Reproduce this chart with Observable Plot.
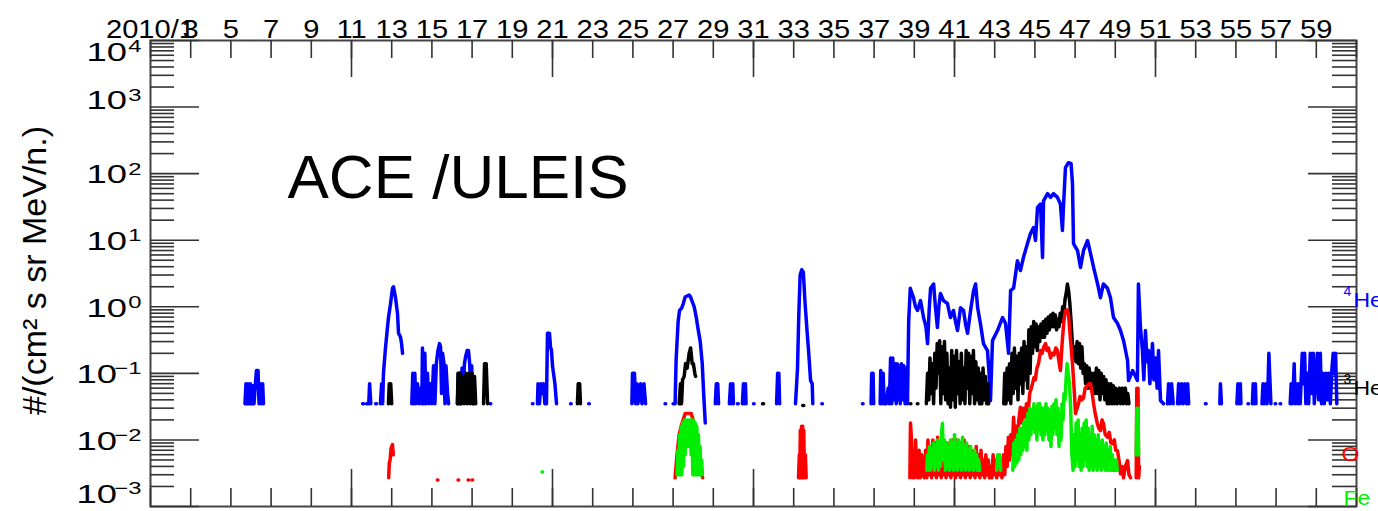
<!DOCTYPE html>
<html><head><meta charset="utf-8">
<script src="https://cdn.jsdelivr.net/npm/d3@7"></script>
<script src="https://cdn.jsdelivr.net/npm/@observablehq/plot@0.6"></script>
<style>html,body{margin:0;padding:0;background:#fff;} svg{display:block;}</style>
</head><body><div id="chart"></div>
<script>
// ---------- axis values ----------
const xTickDays = d3.range(1, 62, 2);
const xLongTickDays = [11, 21, 31, 41, 51];
const xLabelDays = d3.range(1, 60, 2);
const xLabels = xLabelDays.map(d => d === 1 ? "2010/1" : String(d));
const yExponents = [-3, -2, -1, 0, 1, 2, 3, 4];
const yTitle = "#/(cm² s sr MeV/n.)";
const annotation = "ACE /ULEIS";

// ---------- series labels ----------
const seriesNames = ["He", "He", "O", "Fe"];
const seriesSup = ["4", "3", "", ""];
const seriesLabelValue = [1.24, 0.059, 0.006, 0.0013];
const seriesColor = ["#0000ff", "#000000", "#ff0000", "#00ee00"];

// ---------- data: [day of 2010, flux]; null = data gap ----------
const he4 = [
 [5.70,0.035],[5.75,0.07],[5.80,0.035],[5.85,0.07],[5.92,0.035],[5.97,0.07],[6.03,0.035],[6.10,0.065],[6.15,0.035],[6.22,0.07],[6.27,0.11],[6.35,0.11],[6.40,0.035],[6.45,0.07],[6.52,0.035],[6.58,0.07],[6.62,0.035], null,
 [11.55,0.035],[11.6,0.035], null,
 [11.75,0.035],[11.8,0.035], null,
 [11.86,0.035],[11.9,0.07],[11.96,0.035], null,
 [12.2,0.035],[12.25,0.035], null,
 [12.44,0.035],[12.5,0.07],[12.55,0.035],[12.59,0.1],[12.69,0.24],[12.79,0.49],[12.84,0.69],[12.94,1.1],[13.04,1.9],[13.09,2.0],[13.19,1.37],[13.29,0.79],[13.34,0.4],[13.44,0.35],[13.49,0.28],[13.54,0.2], null,
 [14.0,0.035],[14.05,0.1],[14.1,0.035],[14.15,0.1],[14.2,0.035],[14.28,0.07],[14.35,0.035],[14.43,0.06],[14.5,0.035],[14.53,0.24],[14.6,0.035],[14.65,0.2],[14.7,0.035],[14.78,0.1],[14.85,0.035],[14.93,0.07],[15.0,0.035],[15.08,0.13],[15.15,0.035],[15.22,0.14],[15.3,0.22],[15.38,0.28],[15.43,0.25],[15.48,0.05],[15.53,0.2],[15.6,0.14],[15.65,0.035],[15.7,0.13],[15.78,0.05],[15.83,0.035], null,
 [16.27,0.035],[16.32,0.1],[16.4,0.1],[16.45,0.035],[16.5,0.12],[16.55,0.05],[16.62,0.14],[16.68,0.18],[16.75,0.22],[16.82,0.22],[16.88,0.14],[16.93,0.05],[16.98,0.13],[17.02,0.035],[17.07,0.09],[17.1,0.035], null,
 [17.9,0.035],[17.93,0.035], null,
 [20.0,0.035],[20.03,0.035], null,
 [20.25,0.035],[20.28,0.07],[20.35,0.035],[20.42,0.07],[20.5,0.05],[20.55,0.07],[20.62,0.035],[20.7,0.035],[20.75,0.4],[20.85,0.4],[20.9,0.25],[20.95,0.22],[21.0,0.13],[21.05,0.1],[21.12,0.07],[21.2,0.035], null,
 [21.9,0.035],[21.93,0.035], null,
 [22.8,0.035],[22.83,0.035], null,
 [24.95,0.035],[24.98,0.1],[25.08,0.1],[25.13,0.035],[25.2,0.07],[25.25,0.035],[25.38,0.07],[25.45,0.035],[25.55,0.07],[25.63,0.035], null,
 [26.6,0.035],[26.63,0.035], null,
 [27.0,0.035],[27.1,0.035],[27.15,0.16],[27.25,0.6],[27.32,0.88],[27.42,0.95],[27.5,1.1],[27.6,1.4],[27.7,1.45],[27.8,1.5],[27.87,1.4],[27.95,1.2],[28.05,1.0],[28.15,0.7],[28.25,0.45],[28.35,0.3],[28.45,0.14],[28.52,0.05],[28.6,0.018], null,
 [29.1,0.035],[29.15,0.07],[29.22,0.07],[29.26,0.035], null,
 [29.8,0.035],[29.86,0.07],[29.92,0.035],[29.97,0.07],[30.0,0.035], null,
 [30.2,0.035],[30.24,0.035], null,
 [30.45,0.035],[30.5,0.07],[30.55,0.035],[30.6,0.07],[30.63,0.035], null,
 [31.0,0.035],[31.03,0.035], null,
 [32.15,0.035],[32.2,0.1],[32.26,0.1],[32.3,0.035], null,
 [33.09,0.035],[33.19,0.12],[33.25,0.69],[33.32,3.0],[33.4,3.6],[33.48,3.3],[33.56,1.2],[33.66,0.45],[33.74,0.22],[33.84,0.078],[33.92,0.07],[33.95,0.035], null,
 [34.4,0.035],[34.43,0.035], null,
 [36.42,0.035],[36.45,0.035], null,
 [36.85,0.035],[36.88,0.1],[36.95,0.1],[36.98,0.035], null,
 [37.3,0.035],[37.33,0.11],[37.4,0.035],[37.45,0.1],[37.5,0.035],[37.6,0.035],[37.7,0.06],[37.76,0.035],[37.82,0.17],[37.88,0.035],[37.93,0.17],[37.98,0.04],[38.05,0.14],[38.1,0.035],[38.15,0.14],[38.2,0.04],[38.25,0.13],[38.3,0.035],[38.36,0.14],[38.42,0.04],[38.48,0.13],[38.54,0.035],[38.6,0.12],[38.66,0.035],[38.72,0.6],[38.8,1.9],[38.88,1.6],[38.96,1.37],[39.06,1.0],[39.16,0.88],[39.31,1.24],[39.46,0.69],[39.58,0.5],[39.66,0.28],[39.74,0.9],[39.81,1.9],[39.96,2.2],[40.05,1.0],[40.15,0.49],[40.22,1.0],[40.30,1.58],[40.45,1.24],[40.65,1.12],[40.8,0.69],[40.95,0.88],[41.05,0.6],[41.15,0.44],[41.3,0.97],[41.45,0.88],[41.55,0.55],[41.65,0.4],[41.8,0.88],[41.95,1.75],[42.05,2.2],[42.15,0.97],[42.29,0.56],[42.44,0.28],[42.64,0.22],[42.72,0.1],[42.79,0.039],[42.89,0.31],[43.14,0.44],[43.39,0.69],[43.54,0.56],[43.69,0.2],[43.79,1.75],[43.94,1.9],[44.13,4.9],[44.28,3.5],[44.43,5.5],[44.63,8.9],[44.78,12.6],[44.93,15.5],[45.03,9.9],[45.13,31],[45.28,35],[45.38,5.5],[45.43,39],[45.63,50],[45.78,44],[45.93,50],[46.12,44],[46.27,35],[46.37,14],[46.42,31],[46.52,123],[46.67,146],[46.8,141],[46.87,71],[46.92,8.9],[47.12,7.0],[47.27,3.9],[47.42,7.0],[47.62,9.9],[47.77,6.3],[47.92,3.9],[48.12,2.2],[48.26,1.37],[48.41,2.2],[48.61,1.9],[48.76,1.37],[48.91,0.69],[49.11,0.56],[49.26,0.44],[49.41,0.31],[49.61,0.156],[49.66,0.078],[49.86,0.11],[50.1,0.078],[50.15,2.2],[50.25,0.5],[50.35,0.22],[50.42,0.08],[50.5,0.44],[50.58,0.15],[50.65,0.22],[50.72,0.07],[50.85,0.28],[50.92,0.08],[51.0,0.17],[51.08,0.06],[51.15,0.22],[51.25,0.039],[51.4,0.035], null,
 [51.6,0.035],[51.65,0.07],[51.72,0.035],[51.8,0.07],[51.88,0.035], null,
 [52.1,0.035],[52.15,0.07],[52.22,0.035],[52.3,0.07],[52.38,0.035],[52.45,0.07],[52.55,0.035],[52.6,0.07],[52.65,0.035], null,
 [53.48,0.035],[53.52,0.035], null,
 [54.2,0.035],[54.23,0.07],[54.28,0.035], null,
 [55.05,0.035],[55.1,0.07],[55.16,0.035],[55.22,0.07],[55.25,0.035], null,
 [55.6,0.035],[55.63,0.035], null,
 [55.82,0.035],[55.86,0.07],[55.92,0.035],[55.97,0.07],[56.0,0.035], null,
 [56.3,0.035],[56.35,0.07],[56.42,0.035],[56.5,0.07],[56.55,0.035],[56.6,0.07],[56.64,0.2],[56.7,0.07],[56.74,0.035], null,
 [56.95,0.035],[56.98,0.035], null,
 [57.2,0.035],[57.23,0.035], null,
 [57.7,0.035],[57.75,0.07],[57.8,0.035],[57.86,0.07],[57.9,0.14],[57.95,0.035],[58.0,0.07],[58.08,0.035],[58.13,0.07],[58.2,0.035],[58.3,0.2],[58.36,0.07],[58.42,0.2],[58.48,0.035],[58.55,0.1],[58.62,0.035],[58.7,0.2],[58.78,0.05],[58.85,0.2],[58.9,0.035],[58.97,0.07],[59.05,0.2],[59.12,0.04],[59.2,0.2],[59.26,0.035],[59.33,0.1],[59.4,0.035],[59.48,0.1],[59.55,0.04],[59.62,0.1],[59.7,0.035],[59.78,0.12],[59.84,0.2],[59.9,0.1],[59.96,0.2],[60.02,0.035], null
];

const he3 = [
 [12.84,0.035],[12.88,0.07],[12.95,0.07],[13.0,0.035], null,
 [16.27,0.035],[16.3,0.1],[16.35,0.035],[16.4,0.1],[16.45,0.035],[16.55,0.09],[16.6,0.035],[16.7,0.1],[16.75,0.035],[16.85,0.1],[16.9,0.035],[17.0,0.1],[17.05,0.035],[17.12,0.09],[17.18,0.035], null,
 [17.57,0.035],[17.62,0.14],[17.7,0.14],[17.77,0.035], null,
 [22.24,0.035],[22.28,0.07],[22.35,0.07],[22.39,0.035], null,
 [27.3,0.035],[27.37,0.07],[27.42,0.035],[27.47,0.08],[27.55,0.09],[27.62,0.14],[27.7,0.12],[27.8,0.2],[27.87,0.24],[27.95,0.14],[28.01,0.14],[28.08,0.1],[28.12,0.09], null,
 [31.45,0.035],[31.5,0.035], null,
 [33.45,0.033],[33.5,0.033], null,
 [38.8,0.035],[38.83,0.035], null,
 [39.15,0.035],[39.18,0.035], null,
 [39.60,0.035],[39.66,0.1],[39.72,0.04],[39.78,0.17],[39.84,0.05],[39.90,0.14],[39.96,0.035],[40.02,0.2],[40.08,0.06],[40.14,0.28],[40.20,0.1],[40.26,0.31],[40.32,0.035],[40.38,0.25],[40.44,0.05],[40.5,0.3],[40.56,0.04],[40.62,0.2],[40.68,0.035],[40.74,0.12],[40.8,0.031],[40.86,0.22],[40.92,0.04],[40.98,0.18],[41.04,0.031],[41.1,0.22],[41.16,0.05],[41.22,0.15],[41.28,0.035],[41.34,0.2],[41.4,0.04],[41.46,0.12],[41.52,0.035],[41.58,0.22],[41.64,0.06],[41.7,0.2],[41.76,0.035],[41.82,0.18],[41.88,0.05],[41.94,0.22],[42.0,0.035],[42.06,0.15],[42.12,0.04],[42.18,0.12],[42.24,0.035],[42.3,0.1],[42.36,0.035],[42.42,0.12],[42.48,0.04],[42.54,0.09],[42.6,0.035],[42.66,0.07],[42.7,0.035], null,
 [43.45,0.035],[43.5,0.1],[43.56,0.035],[43.62,0.12],[43.68,0.04],[43.74,0.14],[43.8,0.035],[43.86,0.2],[43.92,0.05],[43.98,0.24],[44.04,0.06],[44.1,0.18],[44.16,0.04],[44.22,0.2],[44.28,0.07],[44.34,0.24],[44.4,0.05],[44.46,0.3],[44.52,0.08],[44.58,0.25],[44.64,0.06],[44.7,0.45],[44.76,0.1],[44.82,0.5],[44.88,0.2],[44.94,0.6],[45.0,0.25],[45.06,0.55],[45.12,0.22],[45.18,0.5],[45.24,0.3],[45.3,0.55],[45.36,0.35],[45.42,0.6],[45.48,0.35],[45.54,0.65],[45.6,0.4],[45.66,0.7],[45.72,0.45],[45.78,0.75],[45.84,0.5],[45.9,0.8],[45.96,0.5],[46.02,0.75],[46.08,0.45],[46.14,0.65],[46.2,0.5],[46.26,0.8],[46.32,0.6],[46.38,1.0],[46.44,0.8],[46.5,1.3],[46.56,1.6],[46.62,2.2],[46.68,1.7],[46.74,1.1],[46.8,0.6],[46.86,0.3],[46.92,0.17],[46.98,0.25],[47.04,0.15],[47.1,0.3],[47.16,0.14],[47.22,0.28],[47.28,0.12],[47.34,0.25],[47.4,0.1],[47.46,0.14],[47.52,0.07],[47.58,0.13],[47.64,0.06],[47.7,0.12],[47.76,0.06],[47.82,0.1],[47.88,0.05],[47.94,0.1],[48.0,0.05],[48.06,0.12],[48.12,0.05],[48.18,0.11],[48.24,0.04],[48.3,0.1],[48.36,0.05],[48.42,0.09],[48.48,0.04],[48.54,0.08],[48.6,0.035],[48.66,0.07],[48.72,0.035],[48.78,0.07],[48.84,0.035],[48.9,0.065],[48.96,0.035],[49.02,0.06],[49.1,0.035],[49.2,0.06],[49.26,0.035],[49.35,0.06],[49.4,0.035],[49.5,0.06],[49.56,0.035],[49.62,0.05],[49.68,0.035], null
];

const oxy = [
 [12.85,0.0027],[12.88,0.0045],[12.92,0.005],[12.97,0.0075],[13.04,0.0085],[13.08,0.006], null,
 [15.27,0.0025],[15.3,0.0025], null,
 [16.3,0.0025],[16.33,0.0025], null,
 [16.8,0.0025],[16.83,0.0025], null,
 [17.0,0.0025],[17.03,0.0025], null,
 [27.1,0.0027],[27.18,0.0054],[27.3,0.012],[27.4,0.016],[27.5,0.02],[27.6,0.025],[27.75,0.025],[27.9,0.025],[28.0,0.02],[28.1,0.014],[28.2,0.01],[28.3,0.006],[28.4,0.0035],[28.47,0.0027], null,
 [33.24,0.0027],[33.28,0.006],[33.3,0.0027],[33.33,0.014],[33.36,0.0027],[33.39,0.016],[33.42,0.0027],[33.45,0.016],[33.48,0.0027],[33.5,0.014],[33.54,0.0027],[33.58,0.006],[33.62,0.0027], null,
 [38.78,0.0027],[38.81,0.018],[38.86,0.01],[38.91,0.0027],[38.96,0.006],[39.02,0.0027],[39.06,0.01],[39.12,0.004],[39.18,0.0027],[39.24,0.007],[39.3,0.0027],[39.36,0.006],[39.42,0.003],[39.5,0.0027],[39.56,0.007],[39.62,0.0027],[39.68,0.01],[39.74,0.003],[39.8,0.008],[39.86,0.0027],[39.92,0.01],[39.98,0.003],[40.04,0.009],[40.1,0.0027],[40.16,0.011],[40.22,0.003],[40.28,0.008],[40.34,0.0027],[40.4,0.01],[40.46,0.003],[40.52,0.007],[40.58,0.0027],[40.64,0.009],[40.7,0.003],[40.76,0.008],[40.82,0.0027],[40.88,0.01],[40.94,0.003],[41.0,0.008],[41.06,0.0027],[41.12,0.01],[41.18,0.003],[41.24,0.009],[41.3,0.0027],[41.36,0.008],[41.42,0.003],[41.48,0.01],[41.54,0.0027],[41.6,0.006],[41.66,0.003],[41.72,0.008],[41.78,0.0027],[41.84,0.007],[41.9,0.003],[41.96,0.006],[42.02,0.0027],[42.08,0.008],[42.14,0.003],[42.2,0.006],[42.26,0.0027],[42.32,0.007],[42.38,0.003],[42.44,0.005],[42.5,0.0027],[42.56,0.006],[42.62,0.003],[42.68,0.005],[42.74,0.0027],[42.8,0.004],[42.86,0.0027],[42.92,0.006],[42.98,0.003],[43.04,0.005],[43.1,0.0027],[43.16,0.0044],[43.22,0.003],[43.3,0.005],[43.36,0.0027],[43.44,0.006],[43.5,0.003],[43.56,0.008],[43.62,0.004],[43.68,0.011],[43.74,0.005],[43.8,0.012],[43.86,0.006],[43.94,0.022],[44.0,0.01],[44.06,0.016],[44.12,0.008],[44.2,0.02],[44.28,0.031],[44.34,0.018],[44.42,0.03],[44.5,0.022],[44.58,0.035],[44.66,0.025],[44.74,0.05],[44.82,0.06],[44.88,0.07],[44.95,0.086],[45.02,0.08],[45.1,0.12],[45.18,0.14],[45.28,0.22],[45.36,0.2],[45.44,0.25],[45.53,0.28],[45.6,0.22],[45.68,0.24],[45.78,0.17],[45.86,0.2],[45.95,0.19],[46.04,0.24],[46.12,0.22],[46.2,0.15],[46.27,0.11],[46.36,0.3],[46.44,0.6],[46.52,0.88],[46.6,0.9],[46.67,0.79],[46.76,0.35],[46.87,0.14],[46.95,0.06],[47.02,0.025],[47.1,0.03],[47.17,0.035],[47.25,0.045],[47.33,0.04],[47.42,0.043],[47.5,0.06],[47.6,0.065],[47.7,0.07],[47.77,0.07],[47.85,0.05],[47.92,0.035],[48.0,0.025],[48.1,0.018],[48.18,0.015],[48.26,0.0138],[48.34,0.02],[48.41,0.0176],[48.5,0.012],[48.61,0.011],[48.7,0.013],[48.78,0.009],[48.86,0.0088],[48.95,0.01],[49.02,0.007],[49.11,0.0069],[49.18,0.005],[49.26,0.0031],[49.34,0.004],[49.41,0.0027],[49.5,0.004],[49.61,0.0049],[49.68,0.003],[49.76,0.0027], null,
 [50.04,0.0027],[50.07,0.06],[50.1,0.004],[50.13,0.06],[50.16,0.0027],[50.2,0.004], null
];

const fe = [
 [20.48,0.0033],[20.51,0.0033], null,
 [27.2,0.003],[27.24,0.007],[27.28,0.003],[27.32,0.012],[27.36,0.003],[27.4,0.016],[27.44,0.003],[27.48,0.018],[27.52,0.004],[27.56,0.02],[27.6,0.006],[27.65,0.02],[27.7,0.008],[27.75,0.02],[27.8,0.008],[27.85,0.02],[27.9,0.006],[27.94,0.02],[27.98,0.003],[28.02,0.02],[28.06,0.003],[28.1,0.018],[28.14,0.003],[28.18,0.016],[28.22,0.003],[28.26,0.012],[28.3,0.003],[28.34,0.008],[28.38,0.003],[28.42,0.005],[28.46,0.003], null,
 [39.62,0.0035],[39.66,0.006],[39.7,0.0035],[39.75,0.008],[39.8,0.0035],[39.85,0.007],[39.9,0.004],[39.95,0.009],[40.0,0.0035],[40.05,0.008],[40.1,0.004],[40.15,0.01],[40.2,0.0035],[40.25,0.009],[40.3,0.004],[40.35,0.012],[40.4,0.0176],[40.45,0.005],[40.5,0.01],[40.55,0.0035],[40.6,0.009],[40.65,0.004],[40.7,0.008],[40.75,0.0035],[40.8,0.01],[40.85,0.004],[40.9,0.009],[40.95,0.0035],[41.0,0.012],[41.05,0.004],[41.1,0.008],[41.15,0.0035],[41.2,0.01],[41.25,0.004],[41.3,0.009],[41.35,0.0035],[41.4,0.011],[41.45,0.004],[41.5,0.008],[41.55,0.0035],[41.6,0.009],[41.65,0.004],[41.7,0.007],[41.75,0.0035],[41.8,0.008],[41.85,0.004],[41.9,0.006],[41.95,0.0035],[42.0,0.007],[42.05,0.004],[42.1,0.006],[42.15,0.0035],[42.2,0.005],[42.25,0.0035], null,
 [43.1,0.0035],[43.15,0.006],[43.2,0.004],[43.25,0.006],[43.3,0.0035], null,
 [43.9,0.0035],[43.95,0.009],[44.0,0.004],[44.05,0.01],[44.1,0.0045],[44.15,0.012],[44.2,0.005],[44.25,0.015],[44.3,0.006],[44.35,0.015],[44.4,0.007],[44.45,0.018],[44.5,0.008],[44.55,0.02],[44.6,0.007],[44.65,0.025],[44.7,0.01],[44.75,0.03],[44.8,0.012],[44.85,0.028],[44.9,0.015],[44.95,0.035],[45.0,0.013],[45.05,0.03],[45.1,0.01],[45.15,0.035],[45.2,0.015],[45.25,0.035],[45.3,0.012],[45.35,0.03],[45.4,0.01],[45.45,0.03],[45.5,0.012],[45.55,0.035],[45.6,0.014],[45.65,0.03],[45.7,0.01],[45.75,0.028],[45.8,0.008],[45.85,0.032],[45.9,0.012],[45.95,0.035],[46.0,0.015],[46.05,0.04],[46.1,0.012],[46.15,0.03],[46.2,0.008],[46.25,0.025],[46.3,0.01],[46.35,0.035],[46.4,0.02],[46.45,0.05],[46.5,0.04],[46.55,0.08],[46.6,0.14],[46.66,0.1],[46.72,0.07],[46.78,0.03],[46.84,0.006],[46.9,0.0035],[46.95,0.012],[47.0,0.004],[47.05,0.018],[47.1,0.005],[47.15,0.02],[47.2,0.004],[47.25,0.012],[47.3,0.0035],[47.35,0.015],[47.4,0.004],[47.45,0.018],[47.5,0.005],[47.55,0.02],[47.6,0.004],[47.65,0.015],[47.7,0.0035],[47.75,0.012],[47.8,0.004],[47.85,0.016],[47.9,0.0035],[47.95,0.012],[48.0,0.004],[48.05,0.01],[48.1,0.0035],[48.15,0.012],[48.2,0.004],[48.25,0.009],[48.3,0.0035],[48.35,0.01],[48.4,0.004],[48.45,0.008],[48.5,0.0035],[48.55,0.009],[48.6,0.0035],[48.65,0.007],[48.7,0.0035],[48.75,0.008],[48.8,0.0035],[48.85,0.006],[48.9,0.0035],[48.95,0.005],[49.0,0.0035],[49.05,0.005],[49.1,0.0035], null,
 [50.04,0.006],[50.07,0.03],[50.1,0.008],[50.13,0.03],[50.16,0.006], null
];

// ---------- build ----------
const W = 1378, H = 511, mL = 150, mR = 22, mT = 40, mB = 5;
const fw = W - mL - mR, fh = H - mT - mB;
const font = "'Liberation Sans', Arial, Helvetica, sans-serif";
const rows = s => s.map(p => p ? {d: p[0], v: p[1]} : {d: NaN, v: NaN});
const yMajor = yExponents.map(e => 10 ** e);
const yMinor = [];
for (const e of yExponents.slice(0, -1)) for (let m = 2; m <= 9; m++) yMinor.push(m * 10 ** e);
const tickStyle = {stroke: "#333", strokeWidth: 1.6};

function yLabelMarks(exps, dy) {
  const pos = exps.filter(e => e >= 0), neg = exps.filter(e => e < 0);
  const common = {y: e => 10 ** e, frameAnchor: "left", textAnchor: "end", fontFamily: font, fill: "black", ariaLabel: () => "ylab"};
  return [
    Plot.text(pos, {...common, text: () => "10", dx: -23.4, dy, fontSize: 26}),
    Plot.text(neg, {...common, text: () => "10", dx: -33.4, dy, fontSize: 26}),
    Plot.text(exps, {...common, text: e => e < 0 ? "\u2212" + (-e) : String(e), dx: -9, dy: dy - 6, fontSize: 17})
  ];
}

const marks = [
  Plot.frame({stroke: "#444", strokeWidth: 2}),
  Plot.tickY(yMinor, {y: d => d, insetRight: fw - 24, ...tickStyle}),
  Plot.tickY(yMajor, {y: d => d, insetRight: fw - 49, ...tickStyle}),
  Plot.tickY(yMinor, {y: d => d, insetLeft: fw - 24, ...tickStyle}),
  Plot.tickY(yMajor, {y: d => d, insetLeft: fw - 48, ...tickStyle}),
  Plot.tickX(xTickDays, {x: d => d, insetBottom: fh - 18, ...tickStyle}),
  Plot.tickX(xLongTickDays, {x: d => d, insetBottom: fh - 37, ...tickStyle}),
  Plot.tickX(xTickDays, {x: d => d, insetTop: fh - 18, ...tickStyle}),
  Plot.tickX(xLongTickDays, {x: d => d, insetTop: fh - 37, ...tickStyle}),
  Plot.line(rows(he4), {x: "d", y: "v", stroke: seriesColor[0], strokeWidth: 3.5, strokeLinejoin: "round", strokeLinecap: "round", clip: true}),
  Plot.line(rows(he3), {x: "d", y: "v", stroke: seriesColor[1], strokeWidth: 3.5, strokeLinejoin: "round", strokeLinecap: "round", clip: true}),
  Plot.line(rows(oxy), {x: "d", y: "v", stroke: seriesColor[2], strokeWidth: 3.5, strokeLinejoin: "round", strokeLinecap: "round", clip: true}),
  Plot.line(rows(fe), {x: "d", y: "v", stroke: seriesColor[3], strokeWidth: 3.5, strokeLinejoin: "round", strokeLinecap: "round", clip: true}),
  Plot.text(xLabelDays, {x: d => d, text: (d, i) => xLabels[i], frameAnchor: "top", dy: -21, fontSize: 26, fontFamily: font, fill: "black", ariaLabel: () => "xlab"}),
  ...yLabelMarks([4], 12),
  ...yLabelMarks([3], -6),
  ...yLabelMarks([2, 1, 0, -1, -2], 1.5),
  ...yLabelMarks([-3], -12),
  Plot.text([yTitle], {frameAnchor: "left", textAnchor: "middle", rotate: -90, dx: -115, dy: -3, fontSize: 34, fontFamily: font, fill: "black"}),
  Plot.text([annotation], {frameAnchor: "top-left", textAnchor: "start", lineAnchor: "bottom", dx: 137, dy: 157, fontSize: 62, fontFamily: font, fill: "black"})
];
seriesNames.forEach((name, i) => {
  const dxName = seriesSup[i] ? -3 : (name === "O" ? -15 : -13);
  marks.push(Plot.text([seriesLabelValue[i]], {y: d => d, text: () => name, frameAnchor: "right", textAnchor: "start", dx: dxName, fontSize: 20, fontFamily: font, fill: seriesColor[i], ariaLabel: () => "slab"}));
  if (seriesSup[i]) marks.push(Plot.text([seriesLabelValue[i]], {y: d => d, text: () => seriesSup[i], frameAnchor: "right", textAnchor: "start", dx: -13, dy: -9, fontSize: 14, fontFamily: font, fill: seriesColor[i]}));
});

const chart = Plot.plot({
  width: W, height: H, marginLeft: mL, marginRight: mR, marginTop: mT, marginBottom: mB,
  x: {domain: [1, 61], axis: null},
  y: {type: "log", domain: [1e-3, 1e4], axis: null},
  style: {fontFamily: font, background: "white", overflow: "visible"},
  marks
});
document.getElementById("chart").appendChild(chart);

function stretch(label, s) {
  chart.querySelectorAll(`text[aria-label="${label}"]`).forEach(t => {
    const tr = t.getAttribute("transform");
    if (tr) {
      t.setAttribute("transform", tr + ` scale(${s},1)`);
    } else {
      const x = +(t.getAttribute("x") || 0), y = +(t.getAttribute("y") || 0);
      t.removeAttribute("x"); t.removeAttribute("y");
      t.setAttribute("transform", `translate(${x},${y}) scale(${s},1)`);
    }
  });
}
stretch("xlab", 1.12);
stretch("ylab", 1.4);
stretch("slab", 1.15);
</script>
</body></html>
